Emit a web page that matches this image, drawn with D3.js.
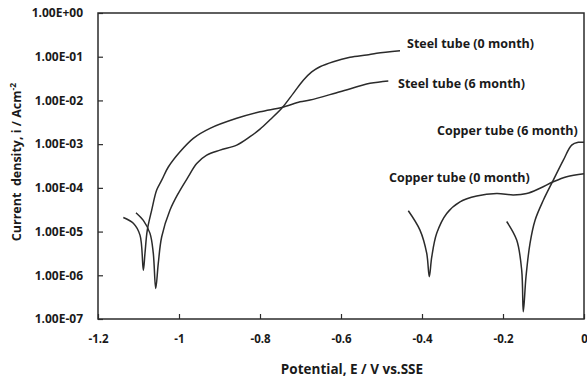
<!DOCTYPE html>
<html>
<head>
<meta charset="utf-8">
<script src="https://cdn.jsdelivr.net/npm/d3@7"></script>
<style>
  html, body { margin: 0; padding: 0; background: #fff; }
  svg { display: block; }
  text { font-family: "Open Sans", "Noto Sans", sans-serif; font-weight: bold; fill: #1a1a1a; }
</style>
</head>
<body>
<svg id="chart" width="587" height="381"></svg>
<script>
// Polarisation curves: potential (V vs. SSE) and current density (A/cm²)
const steel0E = [-1.1062, -1.0881, -1.0716, -1.0635, -1.0575, -1.0511, -1.0427, -1.0222, -1.0017, -0.977, -0.9563, -0.9316, -0.8988, -0.8575, -0.8247, -0.80, -0.7753, -0.7464, -0.7178, -0.6931, -0.6723, -0.6519, -0.619, -0.5778, -0.5365, -0.5119, -0.4543];
const steel0I = [2.7e-5, 1.8e-5, 9.1e-6, 3.2e-6, 5.0e-7, 1.9e-6, 7.6e-6, 3.1e-5, 7.5e-5, 1.8e-4, 3.6e-4, 5.6e-4, 7.3e-4, 9.5e-4, 1.48e-3, 2.2e-3, 3.6e-3, 6.6e-3, 1.45e-2, 2.9e-2, 4.5e-2, 5.9e-2, 7.7e-2, 9.7e-2, 1.1e-1, 1.2e-1, 1.37e-1];

const steel6E = [-1.1375, -1.1128, -1.0963, -1.0881, -1.0840, -1.0783, -1.0674, -1.0551, -1.0427, -1.0264, -0.9975, -0.9647, -0.9235, -0.8575, -0.80, -0.7464, -0.7012, -0.6765, -0.6025, -0.5284, -0.4832];
const steel6I = [2.1e-5, 1.55e-5, 8.3e-6, 1.3e-6, 3.2e-6, 1.08e-5, 3.1e-5, 8.9e-5, 1.5e-4, 3.0e-4, 6.7e-4, 1.36e-3, 2.3e-3, 3.9e-3, 5.5e-3, 6.9e-3, 9.3e-3, 1.02e-2, 1.58e-2, 2.46e-2, 2.8e-2];

const copper0E = [-0.4338, -0.405, -0.3884, -0.382, -0.376, -0.3637, -0.339, -0.3062, -0.2649, -0.2156, -0.1746, -0.1415, -0.1086, -0.0758, -0.0427, 0.0];
const copper0I = [3.0e-5, 1.08e-5, 3.2e-6, 9.3e-7, 2.6e-6, 9.1e-6, 2.6e-5, 4.8e-5, 6.5e-5, 7.4e-5, 6.9e-5, 7.4e-5, 9.8e-5, 1.38e-4, 1.8e-4, 2.1e-4];

const copper6E = [-0.1909, -0.1662, -0.1538, -0.1499, -0.1432, -0.1333, -0.121, -0.1005, -0.0758, -0.051, -0.0304, -0.0141, 0.0];
const copper6I = [1.7e-5, 6.4e-6, 1.3e-6, 1.46e-7, 9.3e-7, 5.4e-6, 1.8e-5, 5.2e-5, 1.5e-4, 4.3e-4, 9.5e-4, 1.1e-3, 1.1e-3];

const seriesNames = ["Steel tube (0 month)", "Steel tube (6 month)", "Copper tube (6 month)", "Copper tube (0 month)"];
const xTickValues = [-1.2, -1, -0.8, -0.6, -0.4, -0.2, 0];
const xTickLabels = ["-1.2", "-1", "-0.8", "-0.6", "-0.4", "-0.2", "0"];
const yTickValues = [1e0, 1e-1, 1e-2, 1e-3, 1e-4, 1e-5, 1e-6, 1e-7];
const yTickLabels = ["1.00E+00", "1.00E-01", "1.00E-02", "1.00E-03", "1.00E-04", "1.00E-05", "1.00E-06", "1.00E-07"];

const svg = d3.select("#chart");
const margin = { left: 98, right: 3, top: 13, bottom: 62 };
const W = 587, H = 381;

const x = d3.scaleLinear().domain([-1.2, 0]).range([margin.left, W - margin.right]);
const y = d3.scaleLog().domain([1e-7, 1]).range([H - margin.bottom, margin.top]);

const ink = "#2b2b2b";

// Plot frame
svg.append("rect")
  .attr("x", x(-1.2)).attr("y", y(1))
  .attr("width", x(0) - x(-1.2)).attr("height", y(1e-7) - y(1))
  .attr("fill", "none").attr("stroke", ink).attr("stroke-width", 1.5);

// Axes with inward ticks
const xAxis = d3.axisBottom(x).tickValues(xTickValues).tickSize(-5).tickPadding(16)
  .tickFormat((d, i) => xTickLabels[i]);
const gx = svg.append("g").attr("transform", `translate(0,${y(1e-7)})`).call(xAxis);
gx.select(".domain").remove();
gx.selectAll(".tick line").attr("stroke", ink).attr("stroke-width", 1.2);
gx.selectAll(".tick text").attr("font-size", 11.5).attr("fill", "#1a1a1a");

const yAxis = d3.axisLeft(y).tickValues(yTickValues).tickSize(-5).tickPadding(15)
  .tickFormat((d, i) => yTickLabels[i]);
const gy = svg.append("g").attr("transform", `translate(${x(-1.2)},0)`).call(yAxis);
gy.select(".domain").remove();
gy.selectAll(".tick line").attr("stroke", ink).attr("stroke-width", 1.2);
gy.selectAll(".tick text").attr("font-size", 12).attr("fill", "#1a1a1a");

// Axis titles
svg.append("text")
  .attr("x", 352).attr("y", 374)
  .attr("text-anchor", "middle").attr("font-size", 13.5)
  .text("Potential, E / V vs.SSE");

const yTitle = svg.append("text")
  .attr("transform", "translate(21,162) rotate(-90)")
  .attr("text-anchor", "middle").attr("font-size", 12.5);
yTitle.append("tspan").text("Current\u00a0 density, i / Acm");
yTitle.append("tspan").attr("dy", -5).attr("font-size", 8.5).text("-2");

// Curves
const line = d3.line().x(d => x(d[0])).y(d => y(d[1])).curve(d3.curveCatmullRom.alpha(0.5));
const curves = [
  d3.zip(steel0E, steel0I),
  d3.zip(steel6E, steel6I),
  d3.zip(copper6E, copper6I),
  d3.zip(copper0E, copper0I)
];
svg.append("g").selectAll("path").data(curves).join("path")
  .attr("d", line)
  .attr("fill", "none")
  .attr("stroke", ink)
  .attr("stroke-width", 1.5)
  .attr("stroke-linejoin", "round");

// Series labels
const labelPos = [[407, 48], [398, 88], [437, 135], [389, 182]];
svg.append("g").selectAll("text").data(seriesNames).join("text")
  .attr("x", (d, i) => labelPos[i][0])
  .attr("y", (d, i) => labelPos[i][1])
  .attr("font-size", 12.5)
  .text(d => d);
</script>
</body>
</html>
